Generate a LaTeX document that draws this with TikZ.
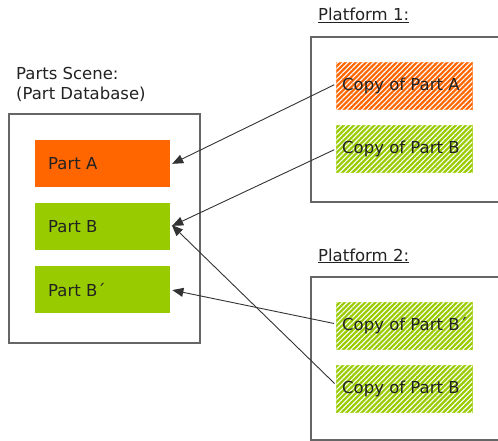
\documentclass[tikz,border=0pt]{standalone}
\usepackage{fontspec}
\setmainfont{DejaVu Sans}
\usetikzlibrary{patterns.meta,arrows.meta}
\definecolor{porange}{HTML}{FF6600}
\definecolor{pgreen}{HTML}{99CC00}
\definecolor{framegray}{HTML}{666666}
\definecolor{txt}{HTML}{222222}
\tikzset{
  frame/.style={draw=framegray,line width=1.4pt},
  partbox/.style={minimum width=135pt,minimum height=47pt,inner sep=0pt},
  copybox/.style={minimum width=136pt,minimum height=47pt,inner sep=0pt,line width=0.8pt},
  hatch/.style={postaction={pattern={Lines[angle=45,distance=3.6pt,line width=1.1pt]},pattern color=white}},
  lbl/.style={font=\fontsize{16.5}{20}\selectfont,text=txt,inner sep=0pt},
  conn/.style={draw=black!80,line width=0.9pt,-{Triangle[length=11pt,width=9pt]},shorten >=2pt,shorten <=2pt}
}
\begin{document}
\begin{tikzpicture}[x=1pt,y=-1pt]
\useasboundingbox (0,0) rectangle (498,441);
\begin{scope}
\clip (0,0) rectangle (498,441);
% frames
\draw[frame] (9,114) rectangle (200,343);
\draw[frame] (311,37) rectangle (510,202);
\draw[frame] (311,277) rectangle (510,440);
\end{scope}
% titles
\node[lbl,anchor=base west] (t1) at (16,80) {Parts Scene:};
\node[lbl,anchor=base west] (t2) at (16,100) {(Part Database)};
\node[lbl,anchor=base west] (p1) at (318,21) {\underline{Platform 1:}};
\node[lbl,anchor=base west] (p2) at (318,261) {\underline{Platform 2:}};
% parts
\node[partbox,fill=porange,anchor=north west] (pA) at (35,140) {};
\node[partbox,fill=pgreen,anchor=north west] (pB) at (35,203) {};
\node[partbox,fill=pgreen,anchor=north west] (pBp) at (35,266) {};
\node[lbl,anchor=west] at ([xshift=13pt]pA.west) {Part A};
\node[lbl,anchor=west] at ([xshift=13pt]pB.west) {Part B};
\node[lbl,anchor=west] at ([xshift=13pt]pBp.west) {Part B´};
% copies
\node[copybox,fill=porange,draw=porange!80,hatch,anchor=north west] (cA) at (336,62) {};
\node[copybox,fill=pgreen,draw=pgreen!85,hatch,anchor=north west] (cB) at (336,125) {};
\node[copybox,fill=pgreen,draw=pgreen!85,hatch,anchor=north west] (cBp) at (336,302) {};
\node[copybox,fill=pgreen,draw=pgreen!85,hatch,anchor=north west] (cB2) at (336,365) {};
\node[lbl,anchor=west] at ([xshift=6pt]cA.west) {Copy of Part A};
\node[lbl,anchor=west] at ([xshift=6pt]cB.west) {Copy of Part B};
\node[lbl,anchor=west] at ([xshift=6pt]cBp.west) {Copy of Part B´};
\node[lbl,anchor=west] at ([xshift=6pt]cB2.west) {Copy of Part B};
% connectors
\draw[conn] ([yshift=2pt]cA.west) -- ([yshift=-1pt]pA.east);
\draw[conn] ([yshift=0pt]cB.west) -- ([yshift=0pt]pB.east);
\draw[conn] ([yshift=2pt]cBp.west) -- ([yshift=0pt]pBp.east);
\draw[conn] ([yshift=4pt]cB2.west) -- ([yshift=3pt]pB.east);
\end{tikzpicture}
\end{document}
